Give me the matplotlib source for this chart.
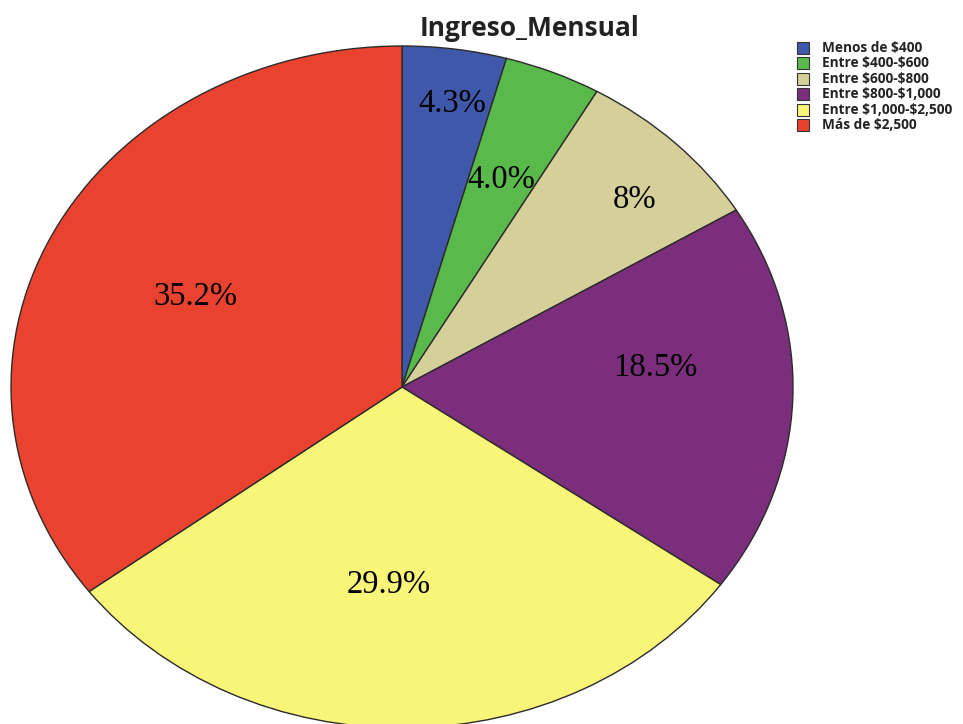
import numpy as np
import matplotlib
matplotlib.use("Agg")
import matplotlib.pyplot as plt
from matplotlib.patches import Rectangle

# Monthly income distribution
categories = ["Menos de $400", "Entre $400-$600", "Entre $600-$800",
              "Entre $800-$1,000", "Entre $1,000-$2,500", "Más de $2,500"]
shares = [4.3, 4.0, 8.0, 18.5, 29.9, 35.2]
share_labels = ["4.3%", "4.0%", "8%", "18.5%", "29.9%", "35.2%"]
colors = ["#3F58AA", "#5AB94B", "#D5CF99", "#7A2E7B", "#F9F578", "#E9432F"]

W, H = 963, 724
fig = plt.figure(figsize=(W / 100, H / 100), dpi=100)

# elliptical pie: axes box is wider than tall, aspect left free
cx, cy, rx, ry = 402, 387, 391, 341
ax = fig.add_axes([(cx - rx) / W, (H - cy - ry) / H, 2 * rx / W, 2 * ry / H])
wedges, _ = ax.pie(shares, colors=colors, startangle=90, counterclock=False,
                   wedgeprops=dict(edgecolor="#2b2b2b", linewidth=1.0))
ax.set_aspect("auto")
ax.set_xlim(-1, 1)
ax.set_ylim(-1, 1)
ax.axis("off")

# percentage labels placed near each wedge's bisector
label_r = [0.84, 0.66, 0.81, 0.65, 0.58, 0.59]
label_turn = [-1, 0, -3, 7, -4, 0]
for w, lab, r, t in zip(wedges, share_labels, label_r, label_turn):
    mid = np.deg2rad((w.theta1 + w.theta2) / 2 + t)
    ax.text(r * np.cos(mid), r * np.sin(mid), lab, ha="center", va="center",
            fontsize=23.5, family="Liberation Serif", color="black")

fig.text(529 / W, 1 - 29 / H, "Ingreso_Mensual", ha="center", va="center",
         fontsize=19, fontweight="bold", family="Open Sans", color="#222222")

# legend
y0, dy = 48, 15.4
for i, (c, name) in enumerate(zip(colors, categories)):
    y = y0 + i * dy
    fig.patches.append(Rectangle((797 / W, 1 - (y + 6) / H), 12 / W, 12 / H,
                                 transform=fig.transFigure, facecolor=c,
                                 edgecolor="#333333", linewidth=0.8))
    fig.text(822 / W, 1 - y / H, name, ha="left", va="center", fontsize=9.8,
             fontweight="bold", family="Open Sans", color="#222222",
             parse_math=False)

fig.savefig("out.png", dpi=100)
